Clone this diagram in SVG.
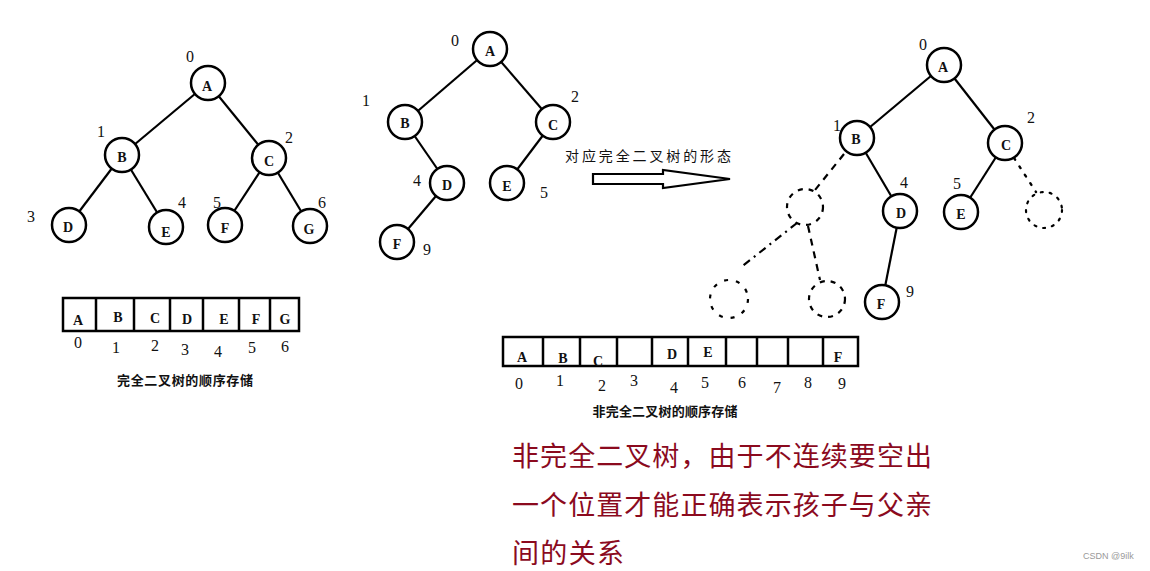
<svg xmlns="http://www.w3.org/2000/svg" width="1150" height="571" viewBox="0 0 1150 571">
<style>
.n{fill:#fff;stroke:#000;stroke-width:2.5}
.dn{fill:none;stroke:#000;stroke-width:2.2;stroke-dasharray:5 6}
.dt{fill:none;stroke:#000;stroke-width:2.2;stroke-dasharray:2 7;stroke-linecap:round}
.e{stroke:#000;stroke-width:2.2;fill:none}
.ed{stroke:#000;stroke-width:2.2;fill:none;stroke-dasharray:7 6}
.edd{stroke:#000;stroke-width:2.2;fill:none;stroke-dasharray:8 5 2 5}
.et{stroke:#000;stroke-width:2.4;fill:none;stroke-dasharray:2 8;stroke-linecap:round}
.l{font-family:"Liberation Serif",serif;font-size:14px;font-weight:bold;text-anchor:middle;fill:#111}
.i{font-family:"Liberation Serif",serif;font-size:16px;text-anchor:middle;fill:#111}
.cap{font-family:"Noto Sans CJK SC",sans-serif;font-size:13px;font-weight:bold;text-anchor:middle;fill:#111}
.arr{fill:#fff;stroke:#000;stroke-width:2.2}
.cell{fill:none;stroke:#000;stroke-width:2.5}
.red{font-family:"Noto Sans CJK SC",sans-serif;font-size:27px;fill:#8b0a1e}
</style>
<rect width="1150" height="571" fill="#fff"/>
<g id="connectors">
<line class="e" x1="208" y1="83" x2="122" y2="155"/>
<line class="e" x1="208" y1="83" x2="269" y2="158"/>
<line class="e" x1="122" y1="155" x2="69" y2="225"/>
<line class="e" x1="122" y1="155" x2="166" y2="227"/>
<line class="e" x1="269" y1="158" x2="225" y2="225"/>
<line class="e" x1="269" y1="158" x2="310" y2="226"/>
<line class="e" x1="490" y1="49" x2="405" y2="122"/>
<line class="e" x1="490" y1="49" x2="553" y2="122"/>
<line class="e" x1="405" y1="122" x2="447" y2="183"/>
<line class="e" x1="553" y1="122" x2="507" y2="183"/>
<line class="e" x1="447" y1="183" x2="397" y2="242"/>
<line class="e" x1="944" y1="65" x2="857" y2="138"/>
<line class="e" x1="944" y1="65" x2="1005" y2="143"/>
<line class="e" x1="857" y1="138" x2="900" y2="211"/>
<line class="e" x1="1005" y1="143" x2="961" y2="212"/>
<line class="e" x1="900" y1="211" x2="882" y2="302"/>
<line class="ed" x1="844" y1="154" x2="815" y2="190"/>
<line class="edd" x1="797" y1="223" x2="740" y2="268"/>
<line class="ed" x1="808" y1="226" x2="820" y2="280"/>
<line class="et" x1="1014" y1="158" x2="1036" y2="192"/>
</g>
<g id="tree1-A"><circle class="n" cx="208" cy="83" r="17"/><text class="l" x="207" y="91">A</text><text class="i" x="190" y="62">0</text></g>
<g id="tree1-B"><circle class="n" cx="122" cy="155" r="17"/><text class="l" x="122" y="162">B</text><text class="i" x="101" y="137">1</text></g>
<g id="tree1-C"><circle class="n" cx="269" cy="158" r="17"/><text class="l" x="269" y="166">C</text><text class="i" x="289" y="143">2</text></g>
<g id="tree1-D"><circle class="n" cx="69" cy="225" r="17"/><text class="l" x="68" y="232">D</text><text class="i" x="31" y="222">3</text></g>
<g id="tree1-E"><circle class="n" cx="166" cy="227" r="17"/><text class="l" x="166" y="237">E</text><text class="i" x="182" y="208">4</text></g>
<g id="tree1-F"><circle class="n" cx="225" cy="225" r="17"/><text class="l" x="225" y="233">F</text><text class="i" x="217" y="208">5</text></g>
<g id="tree1-G"><circle class="n" cx="310" cy="226" r="17"/><text class="l" x="309" y="234">G</text><text class="i" x="322" y="208">6</text></g>
<g id="array1">
<rect class="cell" x="63" y="298" width="236" height="33"/>
<path class="cell" d="M96 298V331M134 298V331M170 298V331M203 298V331M239 298V331M270 298V331"/>
<text class="l" x="78" y="325">A</text><text class="l" x="118" y="322">B</text><text class="l" x="155" y="323">C</text><text class="l" x="187" y="324">D</text><text class="l" x="224" y="324">E</text><text class="l" x="256" y="324">F</text><text class="l" x="285" y="324">G</text>
<text class="i" x="78" y="348">0</text><text class="i" x="116" y="353">1</text><text class="i" x="155" y="351">2</text><text class="i" x="185" y="355">3</text><text class="i" x="218" y="357">4</text><text class="i" x="252" y="353">5</text><text class="i" x="285" y="352">6</text>
<text class="cap" x="185" y="385" textLength="136" lengthAdjust="spacing">完全二叉树的顺序存储</text>
</g>
<g id="tree2-A"><circle class="n" cx="490" cy="49" r="17"/><text class="l" x="490" y="56">A</text><text class="i" x="455" y="46">0</text></g>
<g id="tree2-B"><circle class="n" cx="405" cy="122" r="17"/><text class="l" x="405" y="128">B</text><text class="i" x="366" y="106">1</text></g>
<g id="tree2-C"><circle class="n" cx="553" cy="122" r="17"/><text class="l" x="553" y="130">C</text><text class="i" x="575" y="102">2</text></g>
<g id="tree2-D"><circle class="n" cx="447" cy="183" r="17"/><text class="l" x="447" y="190">D</text><text class="i" x="417" y="186">4</text></g>
<g id="tree2-E"><circle class="n" cx="507" cy="183" r="17"/><text class="l" x="507" y="191">E</text><text class="i" x="544" y="198">5</text></g>
<g id="tree2-F"><circle class="n" cx="397" cy="242" r="17"/><text class="l" x="397" y="249">F</text><text class="i" x="427" y="255">9</text></g>
<g id="arrow">
<text class="cap" x="648" y="161" style="font-size:14px;font-weight:normal" textLength="166" lengthAdjust="spacing">对应完全二叉树的形态</text>
<path class="arr" d="M593 174H663V170L730 179L663 188V184H593Z"/>
</g>
<g id="tree3-A"><circle class="n" cx="944" cy="65" r="17"/><text class="l" x="943" y="72">A</text><text class="i" x="923" y="50">0</text></g>
<g id="tree3-B"><circle class="n" cx="857" cy="138" r="17"/><text class="l" x="856" y="144">B</text><text class="i" x="837" y="131">1</text></g>
<g id="tree3-C"><circle class="n" cx="1005" cy="143" r="17"/><text class="l" x="1006" y="150">C</text><text class="i" x="1031" y="123">2</text></g>
<g id="tree3-D"><circle class="n" cx="900" cy="211" r="17"/><text class="l" x="901" y="218">D</text><text class="i" x="904" y="188">4</text></g>
<g id="tree3-E"><circle class="n" cx="961" cy="212" r="17"/><text class="l" x="961" y="219">E</text><text class="i" x="957" y="189">5</text></g>
<g id="tree3-F"><circle class="n" cx="882" cy="302" r="17"/><text class="l" x="881" y="309">F</text><text class="i" x="910" y="297">9</text></g>
<g id="tree3-empty3"><circle class="dn" cx="805" cy="207" r="18"/></g>
<g id="tree3-empty7"><circle class="dn" cx="729" cy="299" r="19" style="stroke-dasharray:4 8"/></g>
<g id="tree3-empty8"><circle class="dn" cx="827" cy="299" r="18"/></g>
<g id="tree3-empty6"><circle class="dt" cx="1044" cy="210" r="18"/></g>
<g id="array2">
<rect class="cell" x="503" y="337" width="355" height="29"/>
<path class="cell" d="M543 337V366M580 337V366M617 337V366M652 337V366M688 337V366M726 337V366M757 337V366M788 337V366M823 337V366"/>
<text class="l" x="522" y="362">A</text><text class="l" x="563" y="363">B</text><text class="l" x="598" y="366">C</text><text class="l" x="672" y="359">D</text><text class="l" x="708" y="357">E</text><text class="l" x="838" y="362">F</text>
<text class="i" x="519" y="389">0</text><text class="i" x="560" y="386">1</text><text class="i" x="602" y="391">2</text><text class="i" x="634" y="386">3</text><text class="i" x="674" y="393">4</text><text class="i" x="705" y="388">5</text><text class="i" x="742" y="388">6</text><text class="i" x="777" y="393">7</text><text class="i" x="808" y="388">8</text><text class="i" x="842" y="389">9</text>
<text class="cap" x="665" y="416" textLength="145" lengthAdjust="spacing">非完全二叉树的顺序存储</text>
</g>
<g id="note">
<text class="red" x="512" y="466" textLength="420" lengthAdjust="spacing">非完全二叉树，由于不连续要空出</text>
<text class="red" x="512" y="515" textLength="420" lengthAdjust="spacing">一个位置才能正确表示孩子与父亲</text>
<text class="red" x="512" y="563" textLength="112" lengthAdjust="spacing">间的关系</text>
</g>
<text x="1083" y="559" style="font-family:'Liberation Sans',sans-serif;font-size:9px;fill:#999">CSDN @9ilk</text>
</svg>
